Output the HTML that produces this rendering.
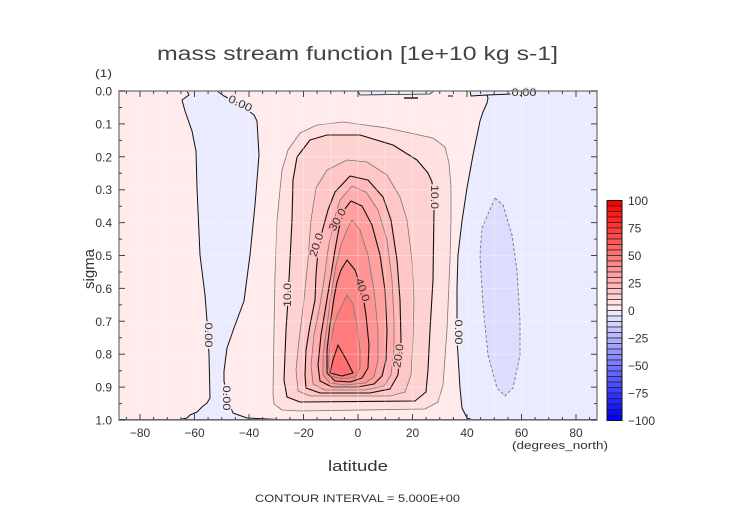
<!DOCTYPE html>
<html><head><meta charset="utf-8"><style>
html,body{margin:0;padding:0;background:#fff;}
svg{display:block;}
text{font-family:"Liberation Sans",sans-serif;fill:#333;}
</style></head><body>
<svg width="752" height="532" viewBox="0 0 752 532" xmlns="http://www.w3.org/2000/svg">
<rect width="752" height="532" fill="#fff"/>
<!-- title -->
<text x="157" y="60" font-size="19" textLength="401" lengthAdjust="spacingAndGlyphs" style="fill:#444">mass stream function [1e+10 kg s-1]</text>
<text x="95" y="77" font-size="11" textLength="17" lengthAdjust="spacingAndGlyphs">(1)</text>

<!-- plot background -->
<rect x="119" y="91" width="478" height="329" fill="#ffebeb"/>
<!-- blue regions -->
<polygon fill="#ebebff" points="187,91 189,95 182,100 185,111 192,131 196,151 197,188 200,255 205,295 207,321 209,355 210,398 207,403 202,407 197,412 190,415 187,418 186,420 260,420 247,418 233,413 227,398 224,381 224,371 227,348 234,328 244,301 250,255 255,205 259,155 257,121 254,115 240,104 224,96 217,91"/>
<polygon fill="#ebebff" points="470,91 471,96 487,95 488,98 487,103 483,112 480,121 473,155 467,188 462,221 458,255 457,288 457,321 457,340 458,355 460,388 462,408 467,418 473,420 597,420 597,91"/>
<polygon fill="#ebebff" stroke="#222" stroke-width="0.8" points="358,91 360,95 395,94.5 430,94 434,91"/>
<polygon fill="#dcdcff" stroke="#777" stroke-width="0.9" stroke-dasharray="3,2" points="495,198 503,205 512,235 517,271 520,321 520,355 513,388 505,396 497,388 488,355 483,305 480,255 482,228"/>

<!-- positive nested bands -->
<g stroke-linejoin="round">
<polygon fill="#ffdfdf" stroke="#777" stroke-width="0.8" points="317,125 343,122 387,128 433,138 445,147 449,163 451,187 451,220 450,260 447,330 443,385 438,402 425,409 300,411 282,410 274,404 273,393 274,330 275,277 277,220 282,170 288,150 300,133"/>
<polygon fill="#ffd2d2" stroke="#111" stroke-width="1.1" points="310,140 327,135 360,135 393,145 417,160 428,173 432,182 434,210 433,280 430,330 428,370 426,392 415,401 300,402 287,397 284,380 286,330 288,300 290,260 292,220 293,180 297,157"/>
<polygon fill="#ffc6c6" stroke="#777" stroke-width="0.8" points="327,170 347,160 367,162 387,175 400,197 407,220 412,260 414,300 413,340 411,375 405,392 390,396 310,396 298,391 296,370 299,340 304,300 308,260 311,220 316,188"/>
<polygon fill="#ffb9b9" stroke="#111" stroke-width="1.1" points="335,192 350,176 368,180 383,197 391,220 397,260 400,300 401,340 398,375 390,389 370,393 320,393 306,388 305,375 306,350 310,325 315,300 316,275 318,250 322,232 328,210"/>
<polygon fill="#ffadad" stroke="#777" stroke-width="0.8" points="340,200 352,186 366,192 378,210 387,240 392,280 394,320 394,350 391,375 384,386 365,390 325,390 313,384 311,365 314,335 320,305 324,280 328,250 334,220"/>
<polygon fill="#ffa1a1" stroke="#111" stroke-width="1.1" points="344,210 351,201 362,206 372,225 380,255 385,290 387,330 386,360 382,376 374,384 358,387 332,387 320,381 318,365 321,335 326,305 331,275 335,250 339,228"/>
<polygon fill="#ff9494" stroke="#777" stroke-width="0.8" points="346,232 352,220 360,230 368,255 374,290 378,330 378,360 374,377 365,383 345,385 330,383 323,375 323,355 327,325 331,295 336,265 341,245"/>
<polygon fill="#ff8888" stroke="#111" stroke-width="1.1" points="341,270 347,260 355,270 362,290 366,315 369,345 368,368 362,378 350,382 335,381 327,373 327,350 330,325 334,298 337,282"/>
<polygon fill="#ff7c7c" stroke="#777" stroke-width="0.8" points="342,305 347,295 353,304 357,325 360,350 360,368 355,377 342,379 331,376 328,365 330,345 334,325 338,313"/>
<polygon fill="#ff6f6f" stroke="#111" stroke-width="1.1" points="338,345 347,361 353,373 342,376 330,373 333,360"/>
</g>

<!-- faint grid -->
<g stroke="#fff" stroke-opacity="0.3" stroke-width="1">
<path d="M140 91V420M167.25 91V420M194.5 91V420M221.75 91V420M249 91V420M276.25 91V420M303.5 91V420M330.75 91V420M358 91V420M385.25 91V420M412.5 91V420M439.75 91V420M467 91V420M494.25 91V420M521.5 91V420M548.75 91V420M576 91V420"/>
<path d="M119 123.9H597M119 156.8H597M119 189.7H597M119 222.6H597M119 255.5H597M119 288.4H597M119 321.3H597M119 354.2H597M119 387.1H597"/>
</g>

<!-- zero contours -->
<g fill="none" stroke="#111" stroke-width="1" stroke-linejoin="round">
<polyline points="187,91 189,95 182,100 185,111 192,131 196,151 197,188 200,255 205,295 207,321 209,355 210,398 207,403 202,407 197,412 190,415 187,418 180,419.5"/>
<polyline points="290,420 247,418 233,413 227,398 224,381 224,371 227,348 234,328 244,301 250,255 255,205 259,155 257,121 254,115 240,104 224,96 217,91"/>
<polyline points="470,91 471,96 487,95 488,98 487,103 483,112 480,121 473,155 467,188 462,221 458,255 457,288 457,321 457,340 458,355 460,388 462,408 467,418 473,420"/>
<polyline points="487,95 511,94"/>
<line x1="119" y1="419.5" x2="597" y2="419.5"/>
<line x1="404" y1="98" x2="418" y2="98" stroke-width="1.4"/>
<line x1="448" y1="96" x2="453" y2="96"/>
</g>

<!-- contour labels -->
<g font-size="11" text-anchor="middle" dominant-baseline="central" paint-order="stroke" stroke-width="3" stroke-linejoin="round">
<text transform="translate(240,104) rotate(25)" stroke="#f4ebf4" textLength="25" lengthAdjust="spacingAndGlyphs">0.00</text>
<text transform="translate(208,335) rotate(90)" stroke="#f4ebf4" textLength="25" lengthAdjust="spacingAndGlyphs">0.00</text>
<text transform="translate(226,398) rotate(90)" stroke="#f4ebf4" textLength="25" lengthAdjust="spacingAndGlyphs">0.00</text>
<text transform="translate(458,332) rotate(90)" stroke="#f4ebf4" textLength="25" lengthAdjust="spacingAndGlyphs">0.00</text>
<text transform="translate(524,93)" stroke="#f4ebf4" textLength="25" lengthAdjust="spacingAndGlyphs">0.00</text>
<text transform="translate(288,295) rotate(-90)" stroke="#ffd8d8" textLength="24" lengthAdjust="spacingAndGlyphs">10.0</text>
<text transform="translate(434,197) rotate(90)" stroke="#ffd8d8" textLength="24" lengthAdjust="spacingAndGlyphs">10.0</text>
<text transform="translate(317,245) rotate(-72)" stroke="#ffbfbf" textLength="24" lengthAdjust="spacingAndGlyphs">20.0</text>
<text transform="translate(399,356) rotate(-82)" stroke="#ffbfbf" textLength="24" lengthAdjust="spacingAndGlyphs">20.0</text>
<text transform="translate(338,220) rotate(-60)" stroke="#ffa7a7" textLength="24" lengthAdjust="spacingAndGlyphs">30.0</text>
<text transform="translate(362,290) rotate(70)" stroke="#ff8e8e" textLength="24" lengthAdjust="spacingAndGlyphs">40.0</text>
</g>

<!-- frame -->
<rect x="119" y="91" width="478" height="329" fill="none" stroke="#888" stroke-width="1.5"/>
<!-- ticks -->
<g stroke="#444" stroke-width="1" fill="none">
<path d="M119 91h6M119 123.9h6M119 156.8h6M119 189.7h6M119 222.6h6M119 255.5h6M119 288.4h6M119 321.3h6M119 354.2h6M119 387.1h6M119 420h6
M119 107.5h3M119 140.4h3M119 173.3h3M119 206.2h3M119 239.1h3M119 272h3M119 304.9h3M119 337.8h3M119 370.7h3M119 403.6h3"/>
<path d="M597 91h-6M597 123.9h-6M597 156.8h-6M597 189.7h-6M597 222.6h-6M597 255.5h-6M597 288.4h-6M597 321.3h-6M597 354.2h-6M597 387.1h-6M597 420h-6
M597 107.5h-3M597 140.4h-3M597 173.3h-3M597 206.2h-3M597 239.1h-3M597 272h-3M597 304.9h-3M597 337.8h-3M597 370.7h-3M597 403.6h-3"/>
<path d="M140 420v-6M194.5 420v-6M249 420v-6M303.5 420v-6M358 420v-6M412.5 420v-6M467 420v-6M521.5 420v-6M576 420v-6
M126.4 420v-3M153.6 420v-3M167.25 420v-3M180.9 420v-3M208.1 420v-3M221.75 420v-3M235.4 420v-3M262.6 420v-3M276.25 420v-3M289.9 420v-3M317.1 420v-3M330.75 420v-3M344.4 420v-3M371.6 420v-3M385.25 420v-3M398.9 420v-3M426.1 420v-3M439.75 420v-3M453.4 420v-3M480.6 420v-3M494.25 420v-3M507.9 420v-3M535.1 420v-3M548.75 420v-3M562.4 420v-3M589.6 420v-3"/>
<path d="M140 91v6M194.5 91v6M249 91v6M303.5 91v6M358 91v6M412.5 91v6M467 91v6M521.5 91v6M576 91v6
M126.4 91v3M153.6 91v3M167.25 91v3M180.9 91v3M208.1 91v3M221.75 91v3M235.4 91v3M262.6 91v3M276.25 91v3M289.9 91v3M317.1 91v3M330.75 91v3M344.4 91v3M371.6 91v3M385.25 91v3M398.9 91v3M426.1 91v3M439.75 91v3M453.4 91v3M480.6 91v3M494.25 91v3M507.9 91v3M535.1 91v3M548.75 91v3M562.4 91v3M589.6 91v3"/>
</g>

<!-- y tick labels -->
<g font-size="12" text-anchor="end">
<text x="112" y="95.5">0.0</text>
<text x="112" y="128.4">0.1</text>
<text x="112" y="161.3">0.2</text>
<text x="112" y="194.2">0.3</text>
<text x="112" y="227.1">0.4</text>
<text x="112" y="260">0.5</text>
<text x="112" y="292.9">0.6</text>
<text x="112" y="325.8">0.7</text>
<text x="112" y="358.7">0.8</text>
<text x="112" y="391.6">0.9</text>
<text x="112" y="424.5">1.0</text>
</g>
<text transform="translate(94,269) rotate(-90)" font-size="15" text-anchor="middle">sigma</text>

<!-- x tick labels -->
<g font-size="12" text-anchor="middle">
<text x="140" y="437">−80</text>
<text x="194.5" y="437">−60</text>
<text x="249" y="437">−40</text>
<text x="303.5" y="437">−20</text>
<text x="358" y="437">0</text>
<text x="412.5" y="437">20</text>
<text x="467" y="437">40</text>
<text x="521.5" y="437">60</text>
<text x="576" y="437">80</text>
</g>
<text x="512" y="449" font-size="11" textLength="96" lengthAdjust="spacingAndGlyphs">(degrees_north)</text>
<text x="358" y="471" font-size="15" text-anchor="middle" textLength="60" lengthAdjust="spacingAndGlyphs">latitude</text>
<text x="255" y="502" font-size="11" textLength="205" lengthAdjust="spacingAndGlyphs">CONTOUR INTERVAL = 5.000E+00</text>

<!-- colorbar -->
<g stroke="#222" stroke-width="0.7">
<rect x="607" y="200.5" width="15" height="5.5" fill="#ff0000"/>
<rect x="607" y="206" width="15" height="5.5" fill="#ff0c0c"/>
<rect x="607" y="211.5" width="15" height="5.5" fill="#ff1919"/>
<rect x="607" y="217" width="15" height="5.5" fill="#ff2525"/>
<rect x="607" y="222.5" width="15" height="5.5" fill="#ff3131"/>
<rect x="607" y="228" width="15" height="5.5" fill="#ff3e3e"/>
<rect x="607" y="233.5" width="15" height="5.5" fill="#ff4a4a"/>
<rect x="607" y="239" width="15" height="5.5" fill="#ff5757"/>
<rect x="607" y="244.5" width="15" height="5.5" fill="#ff6363"/>
<rect x="607" y="250" width="15" height="5.5" fill="#ff6f6f"/>
<rect x="607" y="255.5" width="15" height="5.5" fill="#ff7c7c"/>
<rect x="607" y="261" width="15" height="5.5" fill="#ff8888"/>
<rect x="607" y="266.5" width="15" height="5.5" fill="#ff9494"/>
<rect x="607" y="272" width="15" height="5.5" fill="#ffa1a1"/>
<rect x="607" y="277.5" width="15" height="5.5" fill="#ffadad"/>
<rect x="607" y="283" width="15" height="5.5" fill="#ffb9b9"/>
<rect x="607" y="288.5" width="15" height="5.5" fill="#ffc6c6"/>
<rect x="607" y="294" width="15" height="5.5" fill="#ffd2d2"/>
<rect x="607" y="299.5" width="15" height="5.5" fill="#ffdfdf"/>
<rect x="607" y="305" width="15" height="5.5" fill="#ffebeb"/>
<rect x="607" y="310.5" width="15" height="5.5" fill="#ebebff"/>
<rect x="607" y="316" width="15" height="5.5" fill="#dfdfff"/>
<rect x="607" y="321.5" width="15" height="5.5" fill="#d2d2ff"/>
<rect x="607" y="327" width="15" height="5.5" fill="#c6c6ff"/>
<rect x="607" y="332.5" width="15" height="5.5" fill="#b9b9ff"/>
<rect x="607" y="338" width="15" height="5.5" fill="#adadff"/>
<rect x="607" y="343.5" width="15" height="5.5" fill="#a1a1ff"/>
<rect x="607" y="349" width="15" height="5.5" fill="#9494ff"/>
<rect x="607" y="354.5" width="15" height="5.5" fill="#8888ff"/>
<rect x="607" y="360" width="15" height="5.5" fill="#7c7cff"/>
<rect x="607" y="365.5" width="15" height="5.5" fill="#6f6fff"/>
<rect x="607" y="371" width="15" height="5.5" fill="#6363ff"/>
<rect x="607" y="376.5" width="15" height="5.5" fill="#5757ff"/>
<rect x="607" y="382" width="15" height="5.5" fill="#4a4aff"/>
<rect x="607" y="387.5" width="15" height="5.5" fill="#3e3eff"/>
<rect x="607" y="393" width="15" height="5.5" fill="#3131ff"/>
<rect x="607" y="398.5" width="15" height="5.5" fill="#2525ff"/>
<rect x="607" y="404" width="15" height="5.5" fill="#1919ff"/>
<rect x="607" y="409.5" width="15" height="5.5" fill="#0c0cff"/>
<rect x="607" y="415" width="15" height="5.5" fill="#0000ff"/>
</g>
<rect x="607" y="200.5" width="15" height="220" fill="none" stroke="#111" stroke-width="1"/>
<g font-size="12">
<text x="628" y="205">100</text>
<text x="628" y="232.5">75</text>
<text x="628" y="260">50</text>
<text x="628" y="287.5">25</text>
<text x="628" y="315">0</text>
<text x="628" y="342.5">−25</text>
<text x="628" y="370">−50</text>
<text x="628" y="397.5">−75</text>
<text x="628" y="425">−100</text>
</g>
</svg>
</body></html>
